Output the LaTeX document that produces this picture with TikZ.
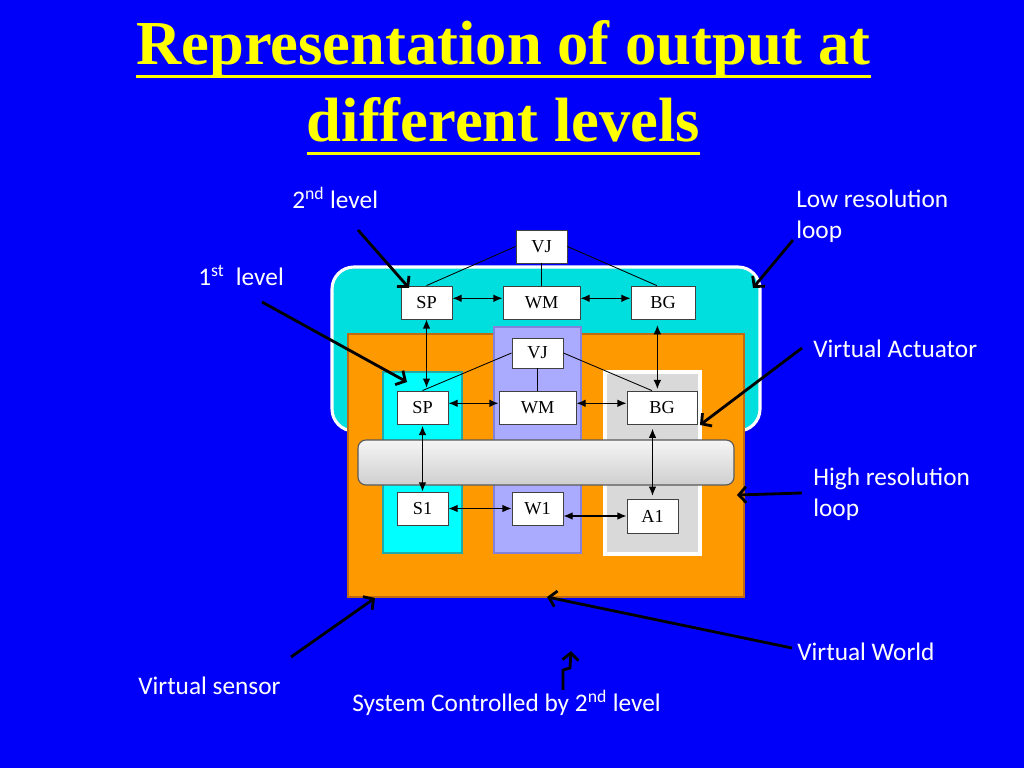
\documentclass[tikz,border=0pt]{standalone}
\usepackage{fontspec}
\setmainfont{Liberation Serif}
\newfontfamily\calfont{Carlito}
\usetikzlibrary{arrows.meta}

\definecolor{slideblue}{RGB}{0,0,250}
\definecolor{titleyellow}{RGB}{255,255,0}
\definecolor{lowcyan}{RGB}{0,222,222}
\definecolor{sensecyan}{RGB}{0,255,255}
\definecolor{senseedge}{RGB}{30,170,170}
\definecolor{worldorange}{RGB}{255,153,0}
\definecolor{worldedge}{RGB}{190,105,20}
\definecolor{jointpurple}{RGB}{170,170,255}
\definecolor{jointedge}{RGB}{130,130,220}
\definecolor{actgray}{RGB}{217,217,217}

\begin{document}
\begin{tikzpicture}[x=0.025cm,y=-0.025cm,
    box/.style={draw=black!75,line width=0.6pt,fill=white,inner sep=0pt,
      minimum width=1.275cm,minimum height=0.825cm,font=\fontsize{13}{15}\selectfont},
    lbl/.style={text=white,inner sep=0pt,font=\calfont\fontsize{18}{22}\selectfont},
    heading/.style={text=titleyellow,inner sep=0pt,anchor=base,
      font=\fontsize{44.5}{54}\selectfont\bfseries},
    wire/.style={line width=0.6pt},
    link/.style={line width=0.9pt,{Latex[length=2.3mm,width=1.9mm]}-{Latex[length=2.3mm,width=1.9mm]}},
    pointer/.style={line width=2pt,-{Straight Barb[length=1.8mm,width=4mm]}}]

      \fill[slideblue] (0,0) rectangle (1024,768);

      % title
      \node[heading] (head1) at (503.5,65) {Representation of output at};
      \node[heading] (head2) at (503.5,142) {different levels};
      \draw[titleyellow,line width=2.2pt] ([yshift=-8pt]head1.base west) -- ([yshift=-8pt]head1.base east);
      \draw[titleyellow,line width=2.2pt] ([yshift=-8pt]head2.base west) -- ([yshift=-8pt]head2.base east);

      % loops and columns
      \draw[white,line width=2.2pt,fill=lowcyan,rounded corners=0.55cm] (332,267) rectangle (760,431);
      \draw[worldedge,line width=1pt,fill=worldorange] (348,334) rectangle (744,597);
      \draw[senseedge,line width=1pt,fill=sensecyan] (383,372) rectangle (462,553);
      \draw[jointedge,line width=1pt,fill=jointpurple] (494,327) rectangle (581,553);
      \draw[white,line width=2.2pt,fill=actgray] (605,372) rectangle (700,554);
      \draw[black!65,line width=0.8pt,rounded corners=0.2cm,top color=gray!8,bottom color=gray!38] (358,440) rectangle (734,485);

      % 2nd level
      \node[box] (vjTop) at (541.5,246.5) {VJ};
      \node[box] (spTop) at (426.5,302.5) {SP};
      \node[box,minimum width=1.925cm] (wmTop) at (541.5,302.5) {WM};
      \node[box,minimum width=1.6cm] (bgTop) at (663,302.5) {BG};

      % 1st level
      \node[box,minimum height=0.75cm] (vjLow) at (537.5,353) {VJ};
      \node[box] (spLow) at (422.5,407.5) {SP};
      \node[box,minimum width=1.925cm] (wmLow) at (537.5,407.5) {WM};
      \node[box,minimum width=1.75cm] (bgLow) at (662,407.5) {BG};

      \node[box] (s1) at (422.5,508.5) {S1};
      \node[box] (w1) at (537.5,508.5) {W1};
      \node[box,minimum height=0.85cm] (a1) at (652.5,516) {A1};

      \draw[wire] (vjTop.west) -- (spTop.north);
      \draw[wire] (vjTop.south) -- (wmTop.north);
      \draw[wire] (vjTop.east) -- (bgTop.110);
      \draw[wire] (vjLow.west) -- (spLow.north);
      \draw[wire] (vjLow.south) -- (wmLow.north);
      \draw[wire] (vjLow.east) -- (bgLow.121);

      \draw[link] ([yshift=3pt]spTop.east) -- ([yshift=3pt]wmTop.west);
      \draw[link] ([yshift=3pt]wmTop.east) -- ([yshift=3pt]bgTop.west);
      \draw[link] ([yshift=3pt]spLow.east) -- ([yshift=3pt]wmLow.west);
      \draw[link] ([yshift=3pt]wmLow.east) -- ([yshift=3pt]bgLow.west);
      \draw[link,shorten >=2pt] (spTop.south) -- (spTop.south |- spLow.north);
      \draw[link,shorten <=4pt,shorten >=1pt] ([xshift=-4pt]bgTop.south) -- ([xshift=-4pt]bgTop.south |- bgLow.north);
      \draw[link,shorten <=1pt] (spLow.south) -- (s1.north);
      \draw[link,shorten <=3pt,shorten >=2pt] (a1.north |- bgLow.south) -- (a1.north);
      \draw[link] (s1) -- (w1);
      \draw[link] (w1.east |- a1.west) -- (a1.west);

      % labels
      \node[lbl,anchor=base west] (lvl2) at (292,208) {2\textsuperscript{nd} level};
      \node[lbl,anchor=base west] (lvl1) at (198,285) {1\textsuperscript{st}\ \ level};
      \node[lbl,anchor=north west,align=left] (lowRes) at (796,190) {Low resolution\\loop};
      \node[lbl,anchor=base west] (actLbl) at (813,357) {Virtual Actuator};
      \node[lbl,anchor=north west,align=left] (highRes) at (813,468) {High resolution\\loop};
      \node[lbl,anchor=base west] (worldLbl) at (797,660) {Virtual World};
      \node[lbl,anchor=base west] (sensorLbl) at (138,694) {Virtual sensor};
      \node[lbl,anchor=base west] (sysLbl) at (352,711) {System Controlled by 2\textsuperscript{nd} level};

      \coordinate (lvl2From) at (358,230);   \coordinate (lvl2To) at (409,288);
      \coordinate (lvl1From) at (262,302);   \coordinate (lvl1To) at (407,382);
      \coordinate (lowFrom) at (793,240);    \coordinate (lowTo) at (753,288);
      \coordinate (actFrom) at (802,348);    \coordinate (actTo) at (700,425);
      \coordinate (highFrom) at (802,493);   \coordinate (highTo) at (737,495);
      \coordinate (worldFrom) at (792,648);  \coordinate (worldTo) at (547,597);
      \coordinate (sensorFrom) at (291,657); \coordinate (sensorTo) at (375,598);
      \coordinate (sysFrom) at (563,690);    \coordinate (sysTo) at (571,651);

      \draw[pointer] (lvl2From) -- (lvl2To);
      \draw[pointer] (lvl1From) -- (lvl1To);
      \draw[pointer] (lowFrom) -- (lowTo);
      \draw[pointer] (actFrom) -- (actTo);
      \draw[pointer] (highFrom) -- (highTo);
      \draw[pointer] (worldFrom) -- (worldTo);
      \draw[pointer] (sensorFrom) -- (sensorTo);
      \draw[pointer] (sysFrom) -- ++(0,-20) -- ++(7,-2) -- (sysTo);
\end{tikzpicture}
\end{document}
